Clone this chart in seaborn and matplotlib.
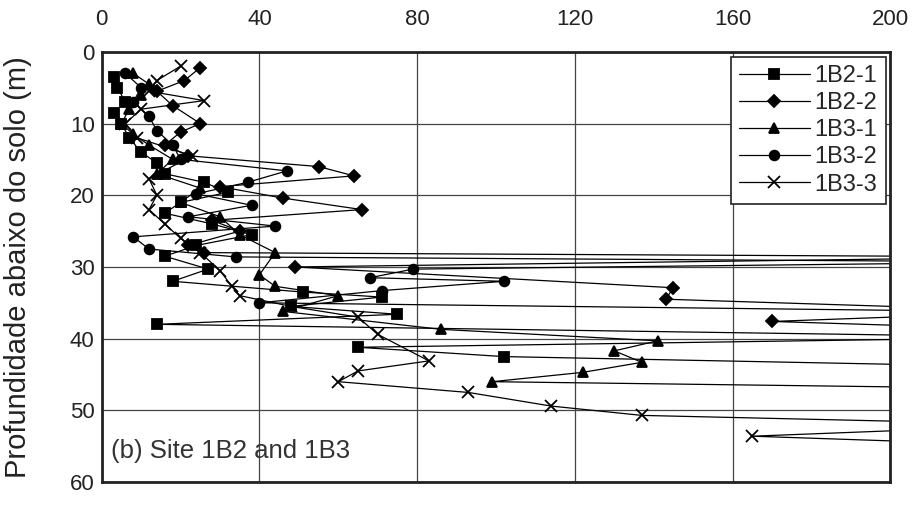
import seaborn as sns
import pandas as pd
import matplotlib
matplotlib.use('Agg')
from matplotlib import pyplot as plt

# values read off the scanned profile (x = measured value, depth in m)
# points beyond 200 run off the right edge and get clipped
s1b2_1_x = [3, 4, 6, 3, 5, 7, 10, 14, 16, 26, 32, 20, 16, 28, 38, 24, 16, 27, 18, 51, 71, 48, 75, 14, 240, 65, 102, 240]
s1b2_1_d = [3.5, 5, 7, 8.5, 10, 12, 14, 15.5, 17, 18.2, 19.6, 21, 22.5, 24, 25.5, 27, 28.5, 30.3, 32, 33.5, 34.2, 35.5, 36.6, 38, 39.8, 41.2, 42.5, 44]

s1b2_2_x = [25, 21, 14, 18, 25, 20, 16, 22, 55, 64, 30, 46, 66, 28, 35, 22, 26, 240, 49, 145, 143, 240, 170, 240]
s1b2_2_d = [2.2, 4, 5.5, 7.5, 10, 11.2, 13, 14.5, 16, 17.3, 18.8, 20.4, 22, 23.5, 25, 27, 28, 28.6, 30, 32.9, 34.5, 36.2, 37.6, 38.8]

s1b3_1_x = [8, 12, 10, 7, 5, 8, 12, 18, 14, 25, 20, 30, 35, 44, 40, 44, 60, 46, 86, 141, 130, 137, 122, 99, 240]
s1b3_1_d = [3, 4.5, 6, 8, 10, 11.5, 13, 15, 17, 19, 21, 23, 25.5, 28, 31.1, 32.7, 34, 36.2, 38.7, 40.3, 41.7, 43.3, 44.7, 46, 47]

s1b3_2_x = [6, 10, 8, 12, 14, 18, 20, 47, 37, 24, 38, 22, 44, 8, 12, 34, 240, 79, 68, 102, 71, 40, 240]
s1b3_2_d = [3, 5, 7, 9, 11, 13, 15, 16.6, 18.2, 19.8, 21.4, 23, 24.3, 25.8, 27.5, 28.6, 29.3, 30.3, 31.5, 32, 33.3, 35, 36.3]

s1b3_3_x = [20, 14, 12, 26, 10, 6, 9, 23, 12, 14, 12, 16, 20, 25, 30, 33, 35, 48, 65, 70, 83, 65, 60, 93, 114, 137, 240, 165, 240]
s1b3_3_d = [2, 4, 5.5, 6.8, 8, 10, 12, 14.5, 17.7, 20, 22, 24, 26, 28, 30.5, 32.7, 34, 35.5, 37, 39.4, 43.1, 44.5, 46, 47.5, 49.4, 50.7, 52, 53.6, 55]

names = ['1B2-1', '1B2-2', '1B3-1', '1B3-2', '1B3-3']
xs = [s1b2_1_x, s1b2_2_x, s1b3_1_x, s1b3_2_x, s1b3_3_x]
ds = [s1b2_1_d, s1b2_2_d, s1b3_1_d, s1b3_2_d, s1b3_3_d]
marcas = ['s', 'D', '^', 'o', 'x']
tamanhos = [7, 6, 7, 7, 8]

sns.set_style('white')
plt.rcParams['font.family'] = ['Liberation Sans', 'DejaVu Sans']

fig = plt.figure(figsize=(9.16, 5.08), dpi=100)
ax = fig.add_axes([0.111, 0.051, 0.861, 0.847])

for name, xv, dv, m, ms in zip(names, xs, ds, marcas, tamanhos):
    df = pd.DataFrame({'valor': xv, 'prof': dv})
    sns.lineplot(data=df, x='valor', y='prof', sort=False, estimator=None,
                 color='black', lw=0.9, marker=m, markersize=ms,
                 markeredgecolor='black', markeredgewidth=1.3, label=name, ax=ax)

ax.set_xlim(0, 200)
ax.set_ylim(60, 0)
ax.set_xticks([0, 40, 80, 120, 160, 200])
ax.set_yticks([0, 10, 20, 30, 40, 50, 60])
ax.xaxis.tick_top()
ax.tick_params(labelsize=16, length=0, labelcolor='#222222')
ax.tick_params(axis='x', pad=16)
ax.tick_params(axis='y', pad=5)
ax.grid(True, color='#444444', lw=0.9)
for sp in ax.spines.values():
    sp.set_color('#222222')
    sp.set_linewidth(2)
ax.set_xlabel('')
ax.set_ylabel('Profundidade abaixo do solo (m)', fontsize=21, color='#222222')
ax.yaxis.set_label_coords(-0.088, 0.5)

leg = ax.legend(loc='upper right', fontsize=17, frameon=True, fancybox=False,
                edgecolor='#222222', borderaxespad=0.2, handlelength=3.0, handletextpad=0.2,
                labelspacing=0.22, borderpad=0.35, framealpha=1)
leg.get_frame().set_linewidth(1.2)

ax.text(2.3, 55.6, '(b) Site 1B2 and 1B3', fontsize=18.5, color='#333333', va='center')

fig.savefig('out.png', dpi=100)
plt.close()
